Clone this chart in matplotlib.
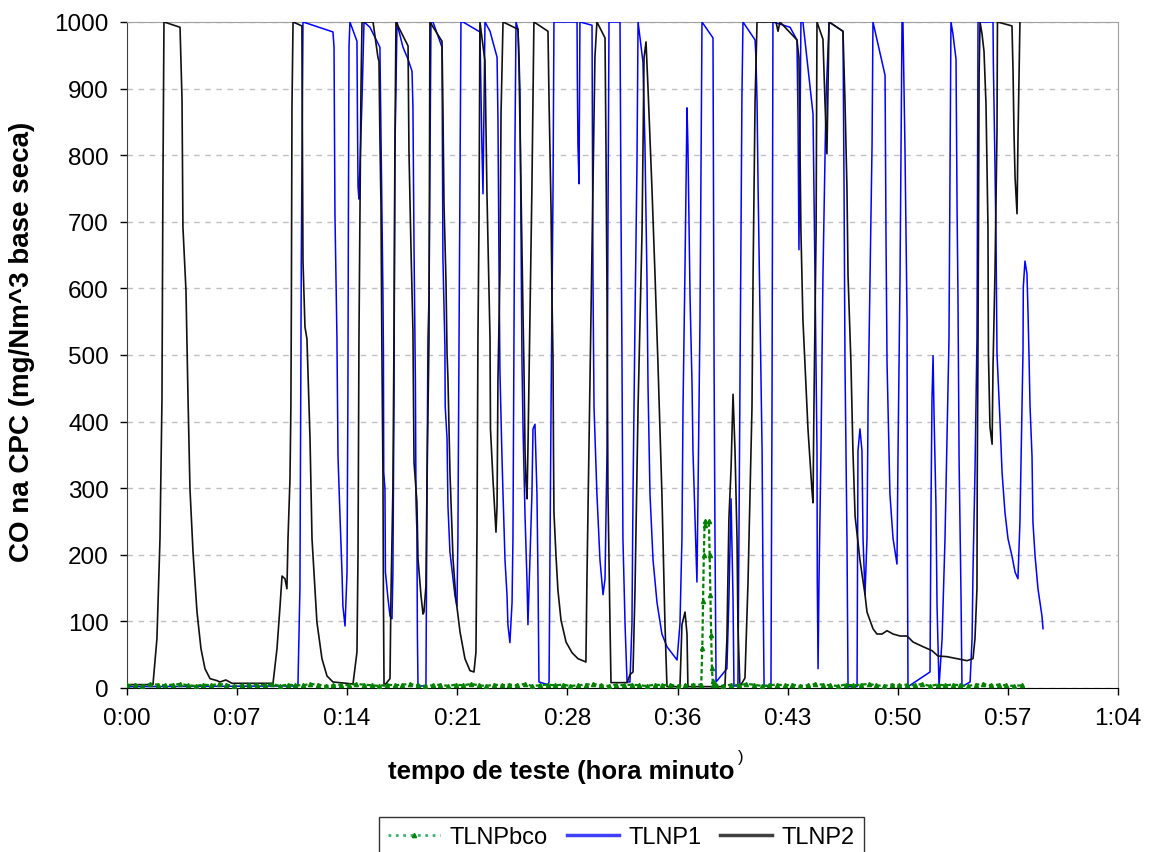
import matplotlib.pyplot as plt
import numpy as np
from matplotlib.lines import Line2D

# tempo em minutos, CO em mg/Nm3 (cortado em 1000)
tlnp2_t = [0, 1.70, 1.96, 2.16, 2.29, 2.35, 2.42, 3.47, 3.60, 3.66, 3.86, 3.99, 4.12, 4.32, 4.58, 4.84,
           5.10, 5.43, 5.89, 6.08, 6.47, 6.87, 9.55, 9.81, 10.01, 10.14, 10.33, 10.46, 10.53, 10.66,
           10.72, 10.75, 10.79, 10.86, 11.44, 11.46, 11.51, 11.64, 11.77, 11.97, 12.10, 12.42, 12.75,
           13.08, 13.47, 14.78, 15.04, 15.11, 15.17, 15.30, 15.37, 16.09, 16.41, 16.48, 16.54, 16.61,
           16.67, 16.74, 16.77, 16.81, 17.20, 17.26, 17.39, 17.46, 17.52, 17.59, 18.38, 18.44, 18.57,
           18.70, 18.77, 18.96, 19.03, 19.23, 19.36, 19.42, 19.55, 19.62, 19.75, 19.81, 20.60, 20.66,
           20.73, 20.86, 20.93, 20.99, 21.12, 21.32, 21.51, 21.78, 22.10, 22.43, 22.69, 22.82, 22.89,
           22.95, 23.02, 23.08, 23.41, 23.54, 23.74, 23.77, 23.93, 24.13, 24.20, 24.26, 24.39, 24.46,
           24.59, 25.57, 25.64, 25.76, 25.90, 25.96, 26.03, 26.09, 26.16, 26.22, 26.35, 26.48, 26.61,
           27.53, 27.60, 27.73, 27.79, 27.86, 27.89, 27.92, 28.05, 28.18, 28.38, 28.71, 29.10, 29.49,
           30.01, 30.08, 30.21, 30.34, 30.47, 30.60, 30.73, 31.26, 31.32, 31.39, 31.45, 31.58, 31.65,
           32.70, 32.89, 33.09, 33.22, 33.42, 33.68, 33.81, 33.94, 34.07, 34.33, 34.53, 34.72, 34.98,
           35.18, 35.31, 36.16, 36.29, 36.49, 36.62, 36.68, 39.10, 39.23, 39.36, 39.50, 39.63, 39.76,
           39.89, 39.95, 40.08, 40.41, 40.61, 40.87, 40.94, 41.07, 41.20, 42.44, 42.57, 42.70, 43.81,
           43.94, 44.07, 44.20, 44.33, 44.53, 44.79, 44.86, 44.92, 45.06, 45.12, 45.51, 45.64, 45.77,
           45.91, 46.82, 46.95, 47.08, 47.15, 47.34, 47.47, 47.61, 47.93, 48.26, 48.39, 48.59, 48.78,
           49.04, 49.37, 49.70, 50.09, 50.55, 51.01, 51.40, 52.05, 52.64, 53.03, 53.62, 54.28, 54.93,
           55.32, 55.45, 55.58, 55.60, 55.65, 55.72, 55.78, 55.91, 56.04, 56.17, 56.30, 56.33, 56.43,
           56.57, 56.63, 56.76, 56.89, 56.92, 57.87, 57.94, 58.00, 58.07, 58.20, 58.26, 58.39]
tlnp2_v = [5, 5, 74, 224, 434, 749, 1000, 992, 884, 692, 596, 438, 299, 204, 114, 59,
           29, 14, 11, 9, 12, 7, 7, 59, 123, 168, 164, 149, 224, 314,
           423, 572, 872, 1000, 994, 881, 641, 542, 524, 374, 224, 99, 44,
           18, 9, 6, 54, 204, 524, 896, 1000, 1000, 947, 941, 827, 727,
           506, 318, 134, 3, 14, 134, 299, 524, 806, 1000, 964, 806, 662,
           536, 339, 279, 194, 138, 111, 114, 153, 309, 524, 1000, 971, 872,
           727, 611, 502, 464, 324, 194, 134, 84, 44, 26, 24, 54, 239,
           524, 701, 1000, 941, 742, 524, 389, 314, 234, 273, 464, 626, 862,
           1000, 989, 928, 752, 557, 479, 356, 309, 284, 359, 557, 752, 1000,
           986, 881, 719, 590, 492, 356, 264, 200, 147, 102, 69, 53, 44,
           39, 167, 362, 557, 752, 947, 1000, 976, 817, 590, 297, 102, 8,
           8, 20, 24, 147, 422, 685, 946, 970, 901, 749, 619, 488, 291,
           95, 2, 2, 95, 114, 81, 2, 2, 74, 254, 329, 441, 356,
           225, 95, 2, 15, 159, 422, 619, 881, 1000, 1000, 986, 1000, 973,
           946, 685, 553, 488, 389, 297, 278, 422, 685, 1000, 974, 881, 802,
           1000, 986, 881, 749, 619, 488, 356, 258, 192, 140, 114, 101, 89,
           81, 81, 86, 81, 78, 78, 69, 62, 56, 48, 47, 44, 41,
           44, 74, 149, 324, 524, 922, 1000, 982, 956, 877, 692, 502, 392,
           366, 483, 626, 836, 1000, 994, 925, 836, 767, 712, 821, 1000]

tlnp1_t = [0, 11.18, 11.31, 11.38, 11.40, 11.51, 13.47, 13.54, 13.60, 13.73, 13.80, 13.93, 14.06, 14.12,
           14.26, 14.39, 14.45, 14.48, 14.52, 14.58, 15.04, 15.07, 15.11, 15.17, 15.37, 15.50, 15.89,
           16.35, 16.54, 16.61, 16.67, 16.74, 16.77, 16.79, 16.87, 16.90, 17.07, 17.20, 17.33, 17.39,
           17.46, 17.52, 17.66, 17.72, 18.05, 18.38, 18.64, 18.70, 18.77, 18.83, 18.86, 18.90, 18.96,
           18.99, 19.03, 19.55, 19.62, 19.68, 19.75, 19.88, 20.01, 20.60, 20.63, 20.66, 20.79, 20.81,
           20.93, 20.99, 21.12, 21.32, 21.45, 21.58, 21.64, 21.71, 21.73, 21.84, 21.97, 23.08, 23.21,
           23.28, 23.41, 23.74, 24.20, 24.26, 24.33, 24.39, 24.52, 24.59, 24.72, 24.85, 24.91, 25.04,
           25.18, 25.24, 25.31, 25.37, 25.44, 25.57, 25.64, 25.70, 25.83, 25.90, 26.03, 26.16, 26.22,
           26.35, 26.48, 26.55, 26.68, 26.81, 26.88, 26.94, 27.53, 27.60, 27.73, 27.86, 27.92, 29.43,
           29.45, 29.49, 29.56, 29.62, 30.41, 30.47, 30.54, 30.73, 30.93, 31.13, 31.26, 31.39, 31.45,
           31.52, 32.24, 32.30, 32.37, 32.43, 32.57, 32.70, 32.89, 33.02, 33.09, 33.22, 33.35, 33.42,
           33.74, 33.87, 34.00, 34.07, 34.20, 34.40, 34.66, 34.98, 35.31, 35.97, 36.16, 36.29, 36.36,
           36.49, 36.62, 36.68, 36.82, 36.95, 37.01, 37.14, 37.27, 37.34, 37.47, 37.60, 38.32, 38.35,
           38.39, 38.45, 38.52, 39.23, 39.36, 39.50, 39.63, 39.69, 39.95, 40.08, 40.21, 40.28, 41.07,
           41.13, 41.20, 41.27, 41.40, 41.53, 41.59, 41.66, 42.11, 42.18, 42.24, 43.36, 43.81, 43.88,
           43.94, 44.07, 44.20, 44.86, 44.99, 45.12, 45.14, 45.19, 45.25, 45.38, 45.51, 45.71, 45.91,
           46.82, 46.89, 46.95, 47.08, 47.15, 47.74, 47.80, 47.93, 48.06, 48.13, 48.26, 48.39, 48.46,
           48.59, 48.72, 48.78, 49.57, 49.63, 49.70, 49.89, 50.09, 50.35, 50.42, 50.55, 50.68, 50.74,
           50.81, 50.87, 51.01, 51.03, 51.07, 52.51, 52.58, 52.64, 52.71, 52.77, 52.90, 52.97, 53.10,
           53.30, 53.49, 53.62, 53.75, 53.82, 53.88, 54.01, 54.21, 54.28, 54.34, 54.41, 54.54, 54.60,
           55.13, 55.26, 55.32, 55.45, 55.58, 55.60, 55.65, 56.63, 56.65, 56.76, 56.83, 56.89, 57.09,
           57.22, 57.41, 57.61, 57.87, 58.07, 58.26, 58.39, 58.53, 58.59, 58.61, 58.72, 58.85, 58.92,
           58.98, 59.05, 59.18, 59.24, 59.38, 59.57, 59.83, 59.90]
tlnp1_v = [2, 3, 149, 524, 641, 1000, 985, 962, 712, 527, 348, 258, 174, 123,
           93, 174, 453, 712, 964, 1000, 971, 862, 752, 734, 884, 1000, 992,
           971, 962, 832, 727, 587, 502, 324, 299, 174, 134, 108, 104, 174,
           434, 802, 1000, 992, 962, 944, 926, 872, 662, 536, 459, 279, 234,
           84, 3, 3, 303, 524, 587, 1000, 1000, 962, 812, 647, 512, 423,
           374, 273, 204, 164, 138, 123, 224, 524, 587, 1000, 1000, 985, 812,
           742, 1000, 986, 947, 854, 626, 474, 348, 291, 192, 140, 95, 68,
           128, 225, 553, 815, 1000, 989, 946, 893, 488, 389, 258, 159, 95,
           192, 291, 389, 396, 291, 159, 9, 5, 9, 422, 749, 1000, 1000,
           914, 815, 757, 1000, 995, 619, 422, 291, 192, 140, 164, 356, 685,
           1000, 1000, 734, 488, 225, 95, 9, 9, 95, 291, 553, 790, 1000,
           940, 815, 619, 455, 291, 192, 128, 81, 62, 42, 96, 225, 422,
           632, 871, 815, 586, 455, 356, 258, 159, 291, 553, 1000, 976, 749,
           488, 225, 9, 29, 134, 284, 134, 3, 3, 434, 884, 1000, 973,
           946, 881, 749, 553, 356, 159, 3, 3, 434, 1000, 992, 973, 854,
           658, 1000, 1000, 862, 619, 356, 159, 29, 159, 356, 619, 884, 1000,
           986, 749, 488, 225, 2, 2, 356, 389, 356, 225, 140, 225, 422,
           619, 815, 1000, 920, 685, 488, 291, 225, 186, 356, 619, 1000, 1000,
           901, 815, 553, 225, 2, 24, 284, 434, 499, 414, 273, 123, 2,
           74, 224, 374, 524, 767, 1000, 982, 944, 719, 584, 344, 134, 2,
           9, 74, 174, 324, 524, 632, 1000, 1000, 941, 782, 662, 502, 399,
           324, 264, 224, 198, 174, 164, 249, 423, 505, 602, 641, 622, 562,
           502, 423, 348, 249, 198, 149, 108, 89]

# TLNPbco: linha de base (a cada 0,5 min) e o pico perto de 0:38
bco_t1 = np.arange(0, 37.5, 0.5)
bco_v1 = [4, 5, 3, 6, 5, 4, 5, 6, 4, 3, 5, 4, 6, 5, 3, 4, 5, 5, 4, 6,
          3, 5, 4, 4, 6, 5, 3, 4, 5, 4, 6, 5, 4, 3, 5, 4, 5, 6, 4, 3,
          4, 5, 3, 5, 4, 6, 4, 3, 5, 4, 5, 4, 6, 3, 4, 5, 4, 5, 3, 4,
          5, 6, 4, 3, 5, 4, 5, 4, 3, 5, 4, 5, 3, 4, 5]
bco_t2 = [37.55, 37.62, 37.67, 37.72, 37.77, 37.82, 38.05, 38.1, 38.15, 38.2, 38.25, 38.3, 38.35]
bco_v2 = [5, 60, 130, 200, 245, 250, 250, 200, 140, 80, 30, 10, 4]
bco_t3 = np.arange(38.5, 58.6, 0.5)
bco_v3 = [4, 3, 5, 4, 6, 5, 3, 4, 5, 4, 5, 3, 4, 6, 5, 4, 3, 5, 4, 5,
          6, 4, 3, 5, 4, 5, 4, 6, 3, 5, 4, 5, 4, 3, 5, 6, 4, 5, 4, 3, 4]
bco_t = np.concatenate([bco_t1, bco_t2, bco_t3])
bco_v = np.concatenate([bco_v1, bco_v2, bco_v3])

xticks = np.arange(0, 65, 7.2)
xlabels = ["0:00", "0:07", "0:14", "0:21", "0:28", "0:36", "0:43", "0:50", "0:57", "1:04"]

plt.rcParams['font.family'] = ['Liberation Sans', 'DejaVu Sans']

fig = plt.figure(figsize=(11.51, 8.53), dpi=100)
ax = fig.add_axes([0.1103, 0.1923, 0.8610, 0.7808])

ax.plot(tlnp1_t, tlnp1_v, color="#0000ff", lw=1.1, zorder=3)
ax.plot(tlnp2_t, tlnp2_v, color="#111111", lw=1.2, zorder=4)
ax.plot(bco_t, bco_v, color="#008000", lw=1.6, ls=(0, (2, 1.2)),
        marker="^", ms=3, zorder=5)

ax.set_xlim(0, 64.8)
ax.set_ylim(0, 1000)
ax.set_xticks(xticks)
ax.set_xticklabels(xlabels)
ax.set_yticks(range(0, 1001, 100))
ax.tick_params(axis="both", direction="out", length=5, width=1, labelsize=17.5, colors="black")
ax.tick_params(axis="x", pad=9)
ax.tick_params(axis="y", pad=8)
ax.yaxis.grid(True, ls=(0, (4, 4)), color="#c0c0c0", lw=1)
ax.set_axisbelow(True)
ax.spines["left"].set_color("#404040")
ax.spines["bottom"].set_color("black")
for s in ["top", "right"]:
    ax.spines[s].set_color("#a0a0a0")

fig.text(0.019, 0.599, "CO na CPC (mg/Nm^3 base seca)", rotation=90, fontsize=20,
         fontweight="bold", ha="center", va="center")
fig.text(0.488, 0.095, "tempo de teste (hora minuto", fontsize=18.5, fontweight="bold",
         ha="center", va="center")
fig.text(0.6435, 0.112, ")", fontsize=12, ha="center", va="center")

handles = [Line2D([], [], color="#3cb371", ls=":", lw=2, marker="^", ms=3,
                  markerfacecolor="#008000", markeredgecolor="#008000"),
           Line2D([], [], color="#4040ff", lw=2.5),
           Line2D([], [], color="#404040", lw=2.5)]
leg = fig.legend(handles, ["TLNPbco", "TLNP1", "TLNP2"], loc="upper center",
                 bbox_to_anchor=(0.54, 0.041), ncol=3, fontsize=17, frameon=True,
                 fancybox=False, edgecolor="black", handlelength=2.2, columnspacing=0.8,
                 handletextpad=0.4, borderpad=0.4, borderaxespad=0, markerscale=1, numpoints=1)
leg.get_frame().set_linewidth(1)

fig.savefig("out.png", dpi=100)
